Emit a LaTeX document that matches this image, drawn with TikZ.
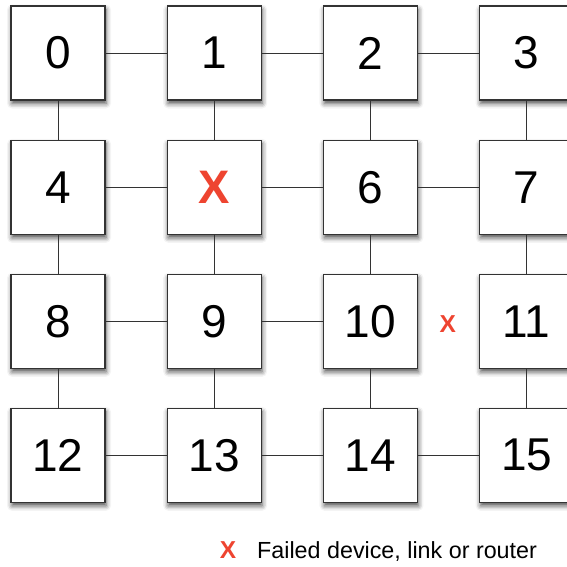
\documentclass[tikz,border=0pt]{standalone}
\usepackage{fontspec}
\setmainfont{Liberation Sans}
\usetikzlibrary{shadows.blur}
\definecolor{failred}{HTML}{EE4430}
\definecolor{edge}{HTML}{333333}
\begin{document}
\begin{tikzpicture}[x=1pt,y=-1pt,
  dev/.style={draw=edge,line width=1.3pt,fill=white,minimum size=94pt,inner sep=0pt,
    font=\fontsize{46}{46}\selectfont,
    blur shadow={shadow xshift=1pt,shadow yshift=-3.5pt,shadow blur radius=5pt,shadow opacity=70}},
  link/.style={draw=edge,line width=1pt},
  fail/.style={text=failred,font=\bfseries\fontsize{47}{47}\selectfont,inner sep=0pt},
  smallfail/.style={text=failred,font=\bfseries\fontsize{24.5}{24.5}\selectfont,inner sep=0pt},
  legend/.style={font=\fontsize{23.3}{23.3}\selectfont,inner sep=0pt}]
\useasboundingbox (0,0) rectangle (567,566);
\clip (0,0) rectangle (567,566);
% nodes
\foreach \r/\y in {0/53,1/187.3,2/321.3,3/455.3}{
  \foreach \c/\x in {0/58,1/214.2,2/370.4,3/526.6}{
    \pgfmathtruncatemacro{\n}{4*\r+\c}
    \ifnum\n=5
      \node[dev] (n\n) at (\x,\y) {};
    \else
      \node[dev] (n\n) at (\x,\y) {\n};
    \fi
  }
}
\node[fail] (x5) at (n5) {X};
% links
\foreach \a/\b in {0/1,1/2,2/3,4/5,5/6,6/7,8/9,9/10,12/13,13/14,14/15,
                   0/4,1/5,2/6,3/7,4/8,5/9,6/10,7/11,8/12,9/13,10/14,11/15}{
  \draw[link] (n\a) -- (n\b);
}
% failed link marker
\node[smallfail] (fx) at (447.7,324) {X};
% legend
\node[smallfail,anchor=base] (lx) at (228,558) {X};
\node[legend,anchor=base west] (lt) at (257,558) {Failed device, link or router};
\end{tikzpicture}
\end{document}
